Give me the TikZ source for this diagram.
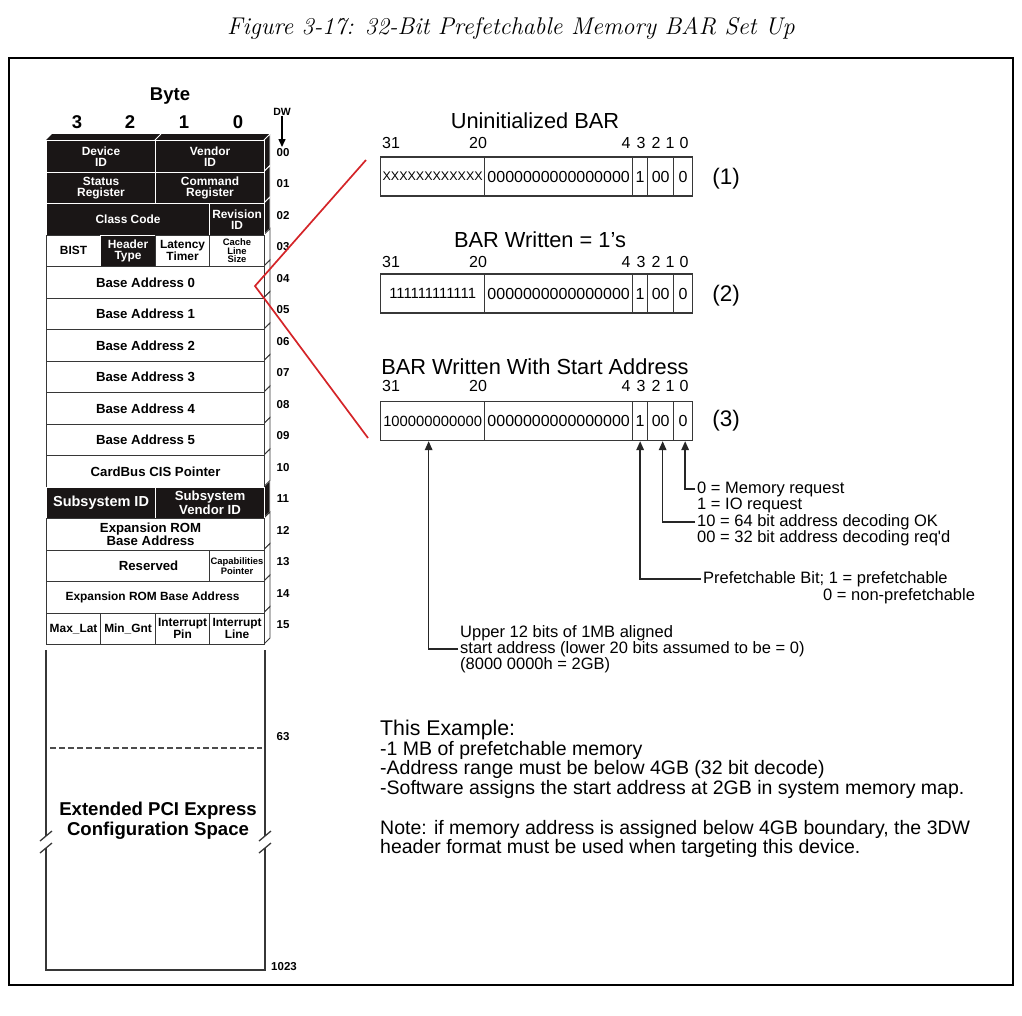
\documentclass[tikz,border=0pt]{standalone}
\usepackage{fontspec}
\newfontfamily\arial{Liberation Sans}
\usetikzlibrary{arrows.meta}
\definecolor{cellblack}{RGB}{26,22,22}
\definecolor{redline}{RGB}{212,36,40}
\definecolor{edge}{RGB}{55,55,55}
\newcommand\tabf{\arial\bfseries\fontsize{11.9}{11}\selectfont}
\newcommand\tabbig{\arial\bfseries\fontsize{13.2}{13}\selectfont}
\newcommand\tabtiny{\arial\bfseries\fontsize{9.4}{8.6}\selectfont}
\newcommand\barf{\arial\fontsize{16}{16}\selectfont}
\newcommand\barg{\arial\fontsize{14.8}{16}\selectfont}
\newcommand\xf{\arial\fontsize{12.5}{14}\selectfont}
\newcommand\annf{\arial\fontsize{16.5}{17}\selectfont}
\newcommand\exf{\arial\fontsize{19.5}{19}\selectfont}
\tikzset{
  cellw/.style={draw=edge, line width=1.1pt, fill=white, inner sep=0pt, minimum height=31.5pt,
    anchor=north west, font=\tabf, align=center},
  cellb/.style={cellw, fill=cellblack, draw=white, text=white},
  dwnum/.style={font=\arial\bfseries\fontsize{11.5}{12}\selectfont, inner sep=0pt},
  bytelab/.style={font=\arial\bfseries\fontsize{18.5}{20}\selectfont, inner sep=0pt},
  field/.style={draw=edge, line width=1.3pt, minimum height=39pt, inner sep=0pt, anchor=west, font=\barf},
  bitlab/.style={font=\arial\fontsize{16}{17}\selectfont, inner sep=0pt},
  bartitle/.style={font=\arial\fontsize{21.8}{22}\selectfont, inner sep=0pt},
  rownum/.style={font=\arial\fontsize{22.5}{24}\selectfont, inner sep=0pt},
  ann/.style={font=\annf, inner sep=2pt, anchor=west},
  extext/.style={font=\exf, inner sep=0pt, anchor=west},
  arr/.style={draw=black!85, line width=1.6pt, -{Triangle[width=7.5pt,length=9pt]}},
  redl/.style={draw=redline, line width=1.7pt, line join=miter},
  thinedge/.style={draw=edge, line width=1.3pt}
}
\begin{document}
\begin{tikzpicture}[x=1pt,y=-1pt]
\useasboundingbox (0,0) rectangle (1022,1015);
% title and frame
\node[inner sep=0pt] (title) at (511,28) {\fontsize{24.2}{28}\selectfont\itshape Figure 3-17: 32-Bit Prefetchable Memory BAR Set Up};
\draw[line width=1.5pt] (9,58) rectangle (1013,985);

% byte header
\node[bytelab] (byte) at (170,96) {Byte};
\node[bytelab] (b3) at (77,122) {3};
\node[bytelab] (b2) at (130,122) {2};
\node[bytelab] (b1) at (184,122) {1};
\node[bytelab] (b0) at (238,122) {0};
\node[dwnum, font=\arial\bfseries\fontsize{10.5}{11}\selectfont] (dw) at (282,112) {DW};
\coordinate (dwend) at (282,147);
\draw[draw=black, line width=1.5pt, -{Triangle[width=7pt,length=8pt]}] (dw.south) -- (dwend);

% top face
\fill[cellblack] (46,140) -- (52,134) -- (270,134) -- (264,140) -- cycle;
\draw[white, line width=0.9pt] (155,140) -- (161,134);

% side faces
\foreach \i in {0,1,2,11} {
  \pgfmathsetmacro\ta{140+31.5*\i}
  \pgfmathsetmacro\tb{\ta+31.5}
  \filldraw[fill=cellblack, draw=white, line width=0.8pt] (264,\ta) -- (270,\ta-6) -- (270,\tb-6) -- (264,\tb) -- cycle;
}
\foreach \i in {3,...,10,12,13,14,15} {
  \pgfmathsetmacro\ta{140+31.5*\i}
  \pgfmathsetmacro\tb{\ta+31.5}
  \filldraw[fill=white, draw=edge, line width=0.9pt] (264,\ta) -- (270,\ta-6) -- (270,\tb-6) -- (264,\tb) -- cycle;
}

% row 00
\node[cellb, minimum width=109pt] (devid) at (46,140) {Device\\ID};
\node[cellb, minimum width=109pt] (venid) at (155,140) {Vendor\\ID};
% row 01
\node[cellb, minimum width=109pt] (status) at (46,171.5) {Status\\Register};
\node[cellb, minimum width=109pt] (command) at (155,171.5) {Command\\Register};
% row 02
\node[cellb, minimum width=163pt] (classc) at (46,203) {Class Code};
\node[cellb, minimum width=55pt] (revid) at (209,203) {Revision\\ID};
% row 03
\node[cellw, minimum width=54pt] (bist) at (46,234.5) {BIST};
\node[cellb, minimum width=55pt] (htype) at (100,234.5) {Header\\Type};
\node[cellw, minimum width=54pt] (lat) at (155,234.5) {Latency\\Timer};
\node[cellw, minimum width=55pt, font=\tabtiny] (cache) at (209,234.5) {Cache\\Line\\Size};
% rows 04-09
\node[cellw, minimum width=218pt, font=\tabbig] (ba0) at (46,266) {Base Address 0\hspace*{20pt}};
\node[cellw, minimum width=218pt, font=\tabbig] (ba1) at (46,297.5) {Base Address 1\hspace*{20pt}};
\node[cellw, minimum width=218pt, font=\tabbig] (ba2) at (46,329) {Base Address 2\hspace*{20pt}};
\node[cellw, minimum width=218pt, font=\tabbig] (ba3) at (46,360.5) {Base Address 3\hspace*{20pt}};
\node[cellw, minimum width=218pt, font=\tabbig] (ba4) at (46,392) {Base Address 4\hspace*{20pt}};
\node[cellw, minimum width=218pt, font=\tabbig] (ba5) at (46,423.5) {Base Address 5\hspace*{20pt}};
% row 10
\node[cellw, minimum width=218pt, font=\tabbig] (cis) at (46,455) {CardBus CIS Pointer};
% row 11
\node[cellb, minimum width=109pt, font=\arial\bfseries\fontsize{14.5}{14}\selectfont] (subid) at (46,486.5) {Subsystem ID};
\node[cellb, minimum width=109pt, font=\arial\bfseries\fontsize{13.2}{11.5}\selectfont] (subvid) at (155,486.5) {Subsystem\\Vendor ID};
% row 12
\node[cellw, minimum width=218pt, font=\arial\bfseries\fontsize{13.2}{11.5}\selectfont] (exprom) at (46,518) {Expansion ROM\hspace*{10pt}\\Base Address\hspace*{10pt}};
% row 13
\node[cellw, minimum width=163pt, font=\tabbig] (resv) at (46,549.5) {\hspace*{41pt}Reserved};
\node[cellw, minimum width=55pt, font=\tabtiny] (capp) at (209,549.5) {Capabilities\\Pointer};
% row 14
\node[cellw, minimum width=218pt] (exprom2) at (46,581) {Expansion ROM Base Address\hspace*{6pt}};
% row 15
\node[cellw, minimum width=54pt] (maxlat) at (46,612.5) {Max\_Lat};
\node[cellw, minimum width=55pt] (mingnt) at (100,612.5) {Min\_Gnt};
\node[cellw, minimum width=54pt] (intpin) at (155,612.5) {Interrupt\\Pin};
\node[cellw, minimum width=55pt] (intline) at (209,612.5) {Interrupt\\Line};

% DW numbers
\foreach \i/\lab in {0/00,1/01,2/02,3/03,4/04,5/05,6/06,7/07,8/08,9/09,10/10,11/11,12/12,13/13,14/14,15/15} {
  \node[dwnum] (dw\i) at (283,{140+31.5*\i+12.5}) {\lab};
}

% extended configuration space
\draw[thinedge] (46,650) -- (46,836);
\draw[thinedge] (46,848) -- (46,970) -- (265,970) -- (265,848);
\draw[thinedge] (265,836) -- (265,650);
\draw[thinedge] (40,841) -- (52,831);
\draw[thinedge] (40,853) -- (52,843);
\draw[thinedge] (259,841) -- (271,831);
\draw[thinedge] (259,853) -- (271,843);
\draw[draw=black!70, line width=1.4pt, dash pattern=on 6pt off 3pt] (50,748) -- (262,748);
\node[dwnum] (dw63) at (283,737) {63};
\node[dwnum] (dw1023) at (284,967) {1023};
\node[inner sep=0pt, align=center, font=\arial\bfseries\fontsize{18.6}{20}\selectfont] (ext) at (158,821) {Extended PCI Express\\Configuration Space};

% red lines
\coordinate (rA) at (366,160);
\coordinate (rB) at (255,286);
\coordinate (rC) at (368,438);
\draw[redl] (rA) -- (rB) -- (rC);

% BAR 1
\node[bartitle] (t1) at (535,121) {Uninitialized BAR};
\node[field, minimum width=104pt, font=\xf] (u1) at (380,176.5) {XXXXXXXXXXXX};
\node[field, minimum width=148pt] (u2) at (484,176.5) {0000000000000000};
\node[field, minimum width=15pt] (u3) at (632,176.5) {1};
\node[field, minimum width=26pt] (u4) at (647,176.5) {00};
\node[field, minimum width=19pt] (u5) at (673,176.5) {0};
\node[rownum] (n1) at (726,179) {(1)};
% BAR 2
\node[bartitle] (t2) at (540,240) {BAR Written = 1’s};
\node[field, minimum width=104pt, font=\barg] (w1) at (380,293.5) {111111111111};
\node[field, minimum width=148pt] (w2) at (484,293.5) {0000000000000000};
\node[field, minimum width=15pt] (w3) at (632,293.5) {1};
\node[field, minimum width=26pt] (w4) at (647,293.5) {00};
\node[field, minimum width=19pt] (w5) at (673,293.5) {0};
\node[rownum] (n2) at (726,296) {(2)};
% BAR 3
\node[bartitle] (t3) at (535,367) {BAR Written With Start Address};
\node[field, minimum width=104pt, font=\barg] (s1) at (380,421) {100000000000};
\node[field, minimum width=148pt] (s2) at (484,421) {0000000000000000};
\node[field, minimum width=15pt] (s3) at (632,421) {1};
\node[field, minimum width=26pt] (s4) at (647,421) {00};
\node[field, minimum width=19pt] (s5) at (673,421) {0};
\node[rownum] (n3) at (726,421) {(3)};

% bit labels
\foreach \r/\y in {1/143,2/262,3/386} {
  \foreach \b/\x in {31/391,20/478,4/626,3/641,2/656,1/670,0/684} {
    \node[bitlab] (bl\r-\b) at (\x,\y) {\b};
  }
}

% annotations
\node[ann] (l0a) at (695,489) {0 = Memory request};
\node[ann] (l0b) at (695,505.5) {1 = IO request};
\node[ann] (l1a) at (695,522) {10 = 64 bit address decoding OK};
\node[ann] (l1b) at (695,538.5) {00 = 32 bit address decoding req'd};
\node[ann] (l2a) at (701,579) {Prefetchable Bit; 1 = prefetchable};
\node[ann] (l2b) at (821,596) {0 = non-prefetchable};
\node[ann] (l3a) at (458,633) {Upper 12 bits of 1MB aligned};
\node[ann] (l3b) at (458,649) {start address (lower 20 bits assumed to be = 0)};
\node[ann] (l3c) at (458,665) {(8000 0000h = 2GB)};

\draw[arr] (l0a.west) -| ([xshift=2pt]s5.south);
\draw[arr] (l1a.west) -| ([xshift=2pt]s4.south);
\draw[arr] (l2a.west) -| (s3.south);
\draw[arr] (l3b.west) -| ([xshift=-4pt]s1.south);

% example text
\node[extext, font=\arial\fontsize{21.3}{22}\selectfont] (ex0) at (380,730) {This Example:};
\node[extext] (ex1) at (380,750) {-1 MB of prefetchable memory};
\node[extext] (ex2) at (380,769.5) {-Address range must be below 4GB (32 bit decode)};
\node[extext] (ex3) at (380,789) {-Software assigns the start address at 2GB in system memory map.};
\node[extext] (ex4) at (380,829) {Note: if memory address is assigned below 4GB boundary, the 3DW};
\node[extext] (ex5) at (380,848) {header format must be used when targeting this device.};
\end{tikzpicture}
\end{document}
